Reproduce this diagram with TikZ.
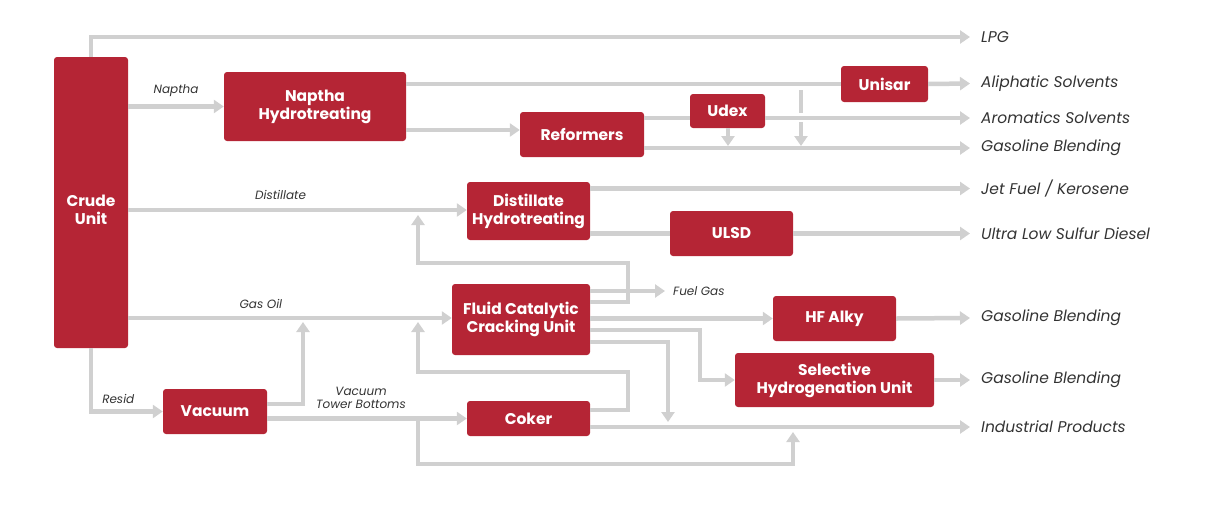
\documentclass[tikz,border=0pt]{standalone}
\usepackage{fontspec}
\setmainfont{Poppins}
\usetikzlibrary{arrows.meta,calc,positioning}
\definecolor{boxred}{RGB}{181,37,53}
\definecolor{flowgray}{RGB}{208,208,208}
\definecolor{labelgray}{RGB}{51,51,51}
\tikzset{
  unit/.style={fill=boxred, text=white, rounded corners=3pt, inner sep=0pt,
    align=center, font=\fontsize{15.5}{18}\selectfont\bfseries},
  flow/.style={draw=flowgray, line width=4.5pt},
  flowarrow/.style={flow, -{Triangle[length=10pt,width=13pt]}},
  product/.style={anchor=west, inner ysep=5pt, inner xsep=11pt, text=labelgray,
    font=\fontsize{15.5}{18}\selectfont\itshape},
  streamlabel/.style={text=labelgray, inner sep=0pt, align=center,
    font=\fontsize{12}{13}\selectfont\itshape}
}
\begin{document}
\begin{tikzpicture}[x=1pt, y=-1pt]
  \useasboundingbox (0,0) rectangle (1217,512);
  % process units
  \node[unit, minimum width=74, minimum height=291] (crude) at (91,202.5) {\rule{0pt}{27pt}Crude\\Unit};
  \node[unit, minimum width=182, minimum height=69] (nht) at (315,106.5) {Naptha\\Hydrotreating};
  \node[unit, minimum width=124, minimum height=45] (ref) at (582,134.5) {Reformers};
  \node[unit, minimum width=75, minimum height=34] (udex) at (727.5,111) {Udex};
  \node[unit, minimum width=87, minimum height=36] (unisar) at (884.5,84) {Unisar};
  \node[unit, minimum width=123, minimum height=58] (dht) at (528.5,211) {Distillate\\Hydrotreating};
  \node[unit, minimum width=123, minimum height=45] (ulsd) at (731.5,233.5) {ULSD};
  \node[unit, minimum width=138, minimum height=71] (fcc) at (521,319.5) {Fluid Catalytic\\Cracking Unit};
  \node[unit, minimum width=123, minimum height=45] (hf) at (834.5,318.5) {HF Alky};
  \node[unit, minimum width=199, minimum height=54] (shu) at (834.5,380) {Selective\\Hydrogenation Unit};
  \node[unit, minimum width=104, minimum height=45] (vac) at (215,411.5) {Vacuum};
  \node[unit, minimum width=123, minimum height=35] (coker) at (528.5,418.5) {Coker};
  % products
  \node[product] (lpg) at (970,37) {LPG};
  \node[product] (aliph) at (970,83.5) {Aliphatic Solvents};
  \node[product] (arom) at (970,118) {Aromatics Solvents};
  \node[product] (gasA) at (970,148) {Gasoline Blending};
  \node[product] (jet) at (970,188.5) {Jet Fuel / Kerosene};
  \node[product] (diesel) at (970,233.5) {Ultra Low Sulfur Diesel};
  \node[product] (gasB) at (970,318) {Gasoline Blending};
  \node[product] (gasC) at (970,380) {Gasoline Blending};
  \node[product] (indus) at (970,427) {Industrial Products};
  \node[streamlabel, anchor=west] (fuel) at (665,291) {\hspace{8pt}Fuel Gas};
  % free ends
  \coordinate (mixTop) at (801,90);
  \coordinate (mixGapA) at (801,113);
  \coordinate (mixGapB) at (801,122);
  \coordinate (mixTip) at (801,146);
  % naptha train
  \draw[flowarrow] (crude.north) |- (lpg.west);
  \draw[flowarrow] (crude.east |- nht.west) -- (nht.west)
    node[streamlabel, midway, above=8pt] (lblNaptha) {Naptha};
  \draw[flow] (nht.east |- unisar.west) -- (unisar.west);
  \draw[flowarrow] (unisar.east) -- (aliph.west);
  \draw[flowarrow] (nht.east |- 0,130) -- (ref.west |- 0,130);
  \draw[flow] (ref.east |- 0,118) -- (udex.west |- 0,118);
  \draw[flowarrow] (udex.east |- arom.west) -- (arom.west);
  \draw[flowarrow] (ref.east |- gasA.west) -- (gasA.west);
  \draw[flowarrow] (udex.south -| 728,0) -- (728,146);
  \draw[flow] (mixTop) -- (mixGapA);
  \draw[flowarrow] (mixGapB) -- (mixTip);
  % distillate train
  \draw[flowarrow] (crude.east |- 0,210) -- (dht.west |- 0,210)
    node[streamlabel, pos=0.45, above=8pt] (lblDist) {Distillate};
  \draw[flowarrow] (dht.east |- jet.west) -- (jet.west);
  \draw[flow] (dht.east |- ulsd.west) -- (ulsd.west);
  \draw[flowarrow] (ulsd.east) -- (diesel.west);
  % gas oil train
  \draw[flowarrow] (crude.east |- 0,318) -- (fcc.west |- 0,318)
    node[streamlabel, pos=0.41, above=7pt] (lblGasOil) {Gas Oil};
  \draw[flowarrow] (fcc.east |- 0,302) -| (628,263) -| (418,215);
  \draw[flowarrow] (fcc.east |- fuel.west) -- (fuel.west);
  \draw[flowarrow] (fcc.east |- hf.west) -- (hf.west);
  \draw[flowarrow] (hf.east) -- (gasB.west);
  \draw[flowarrow] (fcc.east |- 0,330) -| (700,0 |- shu.west) -- (shu.west);
  \draw[flowarrow] (shu.east) -- (gasC.west);
  \draw[flowarrow] (fcc.east |- 0,342) -| (668,422);
  % resid train
  \draw[flowarrow] (crude.south) |- (vac.west)
    node[streamlabel, pos=0.69, above=6pt] (lblResid) {Resid};
  \draw[flowarrow] (vac.east |- 0,404) -| (303,322);
  \draw[flowarrow] (vac.east |- coker.west) -- (coker.west)
    node[streamlabel, pos=0.47, above=8pt] (lblVtb) {Vacuum\\Tower Bottoms};
  \draw[flowarrow] (coker.east |- 0,410) -| (628,372) -| (418,322);
  \draw[flowarrow] (418,418.5) |- (793,464) -- (793,432);
  \draw[flowarrow] (coker.east |- indus.west) -- (indus.west);
\end{tikzpicture}
\end{document}
